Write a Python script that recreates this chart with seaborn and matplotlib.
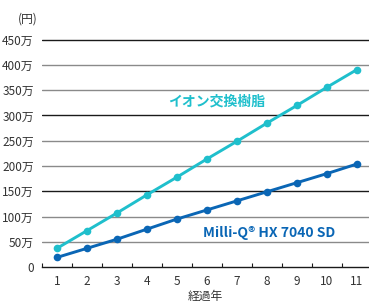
import matplotlib
matplotlib.use("Agg")
import matplotlib.pyplot as plt
import seaborn as sns
import pandas as pd
from matplotlib.ticker import FixedLocator

years = [1, 2, 3, 4, 5, 6, 7, 8, 9, 10, 11]
ion_exchange = [37, 72, 107, 143, 178, 214, 249, 285, 320, 356, 391]
milliq = [19, 37, 55, 75, 95, 113, 131, 149, 167, 185, 204]
series_names = ["イオン交換樹脂", "Milli-Q® HX 7040 SD"]
yticks = [0, 50, 100, 150, 200, 250, 300, 350, 400, 450]
ytick_labels = ["0", "50万", "100万", "150万", "200万", "250万", "300万", "350万", "400万", "450万"]

CYAN = "#1fbfcc"
BLUE = "#0a66b5"

df = pd.DataFrame({
    "year": years * 2,
    "value": ion_exchange + milliq,
    "series": [series_names[0]] * len(years) + [series_names[1]] * len(years),
})

sns.set_theme(style="white")
plt.rcParams["font.family"] = ["Noto Sans CJK JP", "DejaVu Sans"]

W, H = 369, 302
fig = plt.figure(figsize=(W / 100, H / 100), dpi=100)
ymax = 455
px_per = 227.25 / 450
ax_h = ymax * px_per
ax = fig.add_axes([42 / W, (H - 267) / H, 330 / W, ax_h / H])

# gridlines
for v in yticks[1:]:
    col = "#1a1a1a" if v in (150, 300, 450) else "#8a8a8a"
    ax.axhline(v, color=col, lw=1.0, zorder=1)

sns.lineplot(data=df, x="year", y="value", hue="series", palette=[CYAN, BLUE],
             marker="o", markersize=5.5, markeredgewidth=0, linewidth=2.1,
             legend=False, ax=ax, zorder=3)

ax.set_xlim(0.5, 11.5)
ax.set_ylim(0, ymax)
for s in ["top", "right", "left"]:
    ax.spines[s].set_visible(False)
ax.spines["bottom"].set_color("#1a1a1a")
ax.spines["bottom"].set_linewidth(1.0)

ax.set_xticks(years)
ax.set_xticklabels([str(y) for y in years], fontsize=8.5, color="#333333")
ax.xaxis.set_minor_locator(FixedLocator([x + 0.5 for x in range(0, 12)]))
ax.tick_params(axis="x", which="major", length=0, pad=6)
ax.tick_params(axis="x", which="minor", length=3, width=0.8, direction="in",
               color="#1a1a1a", bottom=True)

ax.set_yticks(yticks)
ax.set_yticklabels(ytick_labels, fontsize=8.5, color="#333333")
ax.tick_params(axis="y", length=0, pad=6)

ax.set_xlabel("")
ax.set_ylabel("")

fig.text(28 / W, 1 - 19 / H, "(円)", fontsize=8.5, color="#333333", ha="center", va="center")
fig.text(205 / W, 1 - 296 / H, "経過年", fontsize=8.5, color="#333333", ha="center", va="center")

ax.text(6.33, 327, series_names[0], fontsize=10, fontweight="bold", color=CYAN,
        ha="center", va="center", zorder=4)
ax.text(8.07, 67, series_names[1], fontsize=10, fontweight="bold", color=BLUE,
        ha="center", va="center", zorder=4)

fig.savefig("out.png", dpi=100)
